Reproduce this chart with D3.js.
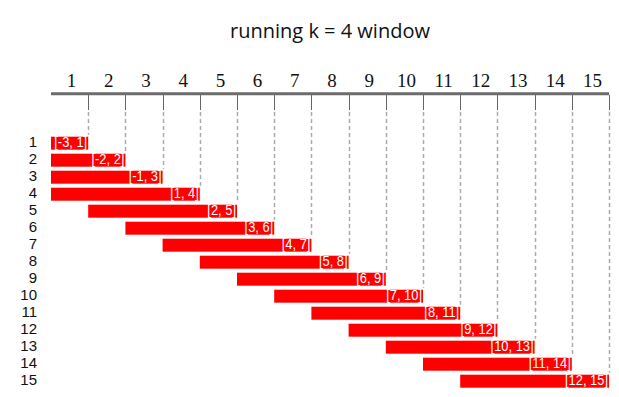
<!DOCTYPE html>
<html>
<head>
<meta charset="utf-8">
<script src="https://cdn.jsdelivr.net/npm/d3@7"></script>
<style>
  body { margin: 0; background: #fff; }
</style>
</head>
<body>
<div id="chart"></div>
<script>
// window rows and their labelled bounds
const rowIds = ["1","2","3","4","5","6","7","8","9","10","11","12","13","14","15"];
const winStart = [-3, -2, -1, 1, 2, 3, 4, 5, 6, 7, 8, 9, 10, 11, 12];
const winEnd = [1, 2, 3, 4, 5, 6, 7, 8, 9, 10, 11, 12, 13, 14, 15];
const colLabels = ["1","2","3","4","5","6","7","8","9","10","11","12","13","14","15"];
const title = "running k = 4 window";

const width = 619, height = 397;

const svg = d3.select("#chart").append("svg")
  .attr("width", width)
  .attr("height", height);

const x = d3.scaleLinear().domain([0, 15]).range([51, 609]);
const xCol = d3.scaleBand().domain(colLabels).range([51, 609]);
const y = d3.scaleBand().domain(rowIds)
  .range([134.7, 134.7 + 255])
  .paddingInner(4 / 17)
  .paddingOuter(2 / 17);

// title
svg.append("text")
  .attr("x", (x(0) + x(15)) / 2)
  .attr("y", 38)
  .attr("text-anchor", "middle")
  .style("font-family", "'Open Sans', sans-serif")
  .style("font-size", "20px")
  .style("fill", "#111")
  .text(title);

// column labels (top axis)
const topAxis = d3.axisTop(xCol).tickSize(0).tickPadding(0);
const gAxis = svg.append("g")
  .attr("transform", "translate(2,87)")
  .call(topAxis);
gAxis.select(".domain").remove();
gAxis.selectAll("text")
  .attr("dy", 0)
  .style("font-family", "'Liberation Serif', serif")
  .style("font-size", "19px")
  .style("fill", "#111");

// thick axis line
svg.append("line")
  .attr("x1", x(0)).attr("x2", x(15))
  .attr("y1", 93.7).attr("y2", 93.7)
  .attr("stroke", "#6b6b6b")
  .attr("stroke-width", 3);

const tickIdx = d3.range(1, 16);

// short solid ticks
svg.selectAll(".tick-solid")
  .data(tickIdx)
  .enter().append("line")
  .attr("class", "tick-solid")
  .attr("x1", d => Math.round(x(d)) + 0.5)
  .attr("x2", d => Math.round(x(d)) + 0.5)
  .attr("y1", 95).attr("y2", 110)
  .attr("stroke", "#666")
  .attr("stroke-width", 1);

// dashed guides down to the bar that ends there
svg.selectAll(".guide")
  .data(tickIdx)
  .enter().append("line")
  .attr("class", "guide")
  .attr("x1", d => Math.round(x(d)) + 0.5)
  .attr("x2", d => Math.round(x(d)) + 0.5)
  .attr("y1", 112)
  .attr("y2", (d, i) => y(rowIds[i]) - 2)
  .attr("stroke", "#aaa")
  .attr("stroke-width", 1.5)
  .attr("stroke-dasharray", "4,3");

const rows = rowIds.map((id, i) => ({id: id, lo: winStart[i], hi: winEnd[i]}));

// bars
svg.selectAll(".bar")
  .data(rows)
  .enter().append("rect")
  .attr("class", "bar")
  .attr("x", d => x(Math.max(d.lo - 1, 0)))
  .attr("y", d => y(d.id))
  .attr("width", d => x(d.hi) - x(Math.max(d.lo - 1, 0)))
  .attr("height", y.bandwidth())
  .attr("fill", "#ff0000");

// bar labels, squeezed a bit sideways
svg.selectAll(".bar-label")
  .data(rows)
  .enter().append("text")
  .attr("class", "bar-label")
  .attr("transform", d => "translate(" + (x(d.hi) - 1) + "," + (y(d.id) + y.bandwidth() - 2.5) + ") scale(0.86,1)")
  .attr("text-anchor", "end")
  .style("font-family", "'Liberation Sans', sans-serif")
  .style("font-size", "15px")
  .style("fill", "#fff")
  .text(d => "[" + d.lo + ", " + d.hi + "]");

// row labels
svg.selectAll(".row-label")
  .data(rows)
  .enter().append("text")
  .attr("class", "row-label")
  .attr("x", 37)
  .attr("y", d => y(d.id) + y.bandwidth() - 3)
  .attr("text-anchor", "end")
  .style("font-family", "'Liberation Sans', sans-serif")
  .style("font-size", "15px")
  .style("fill", "#111")
  .text(d => d.id);
</script>
</body>
</html>
